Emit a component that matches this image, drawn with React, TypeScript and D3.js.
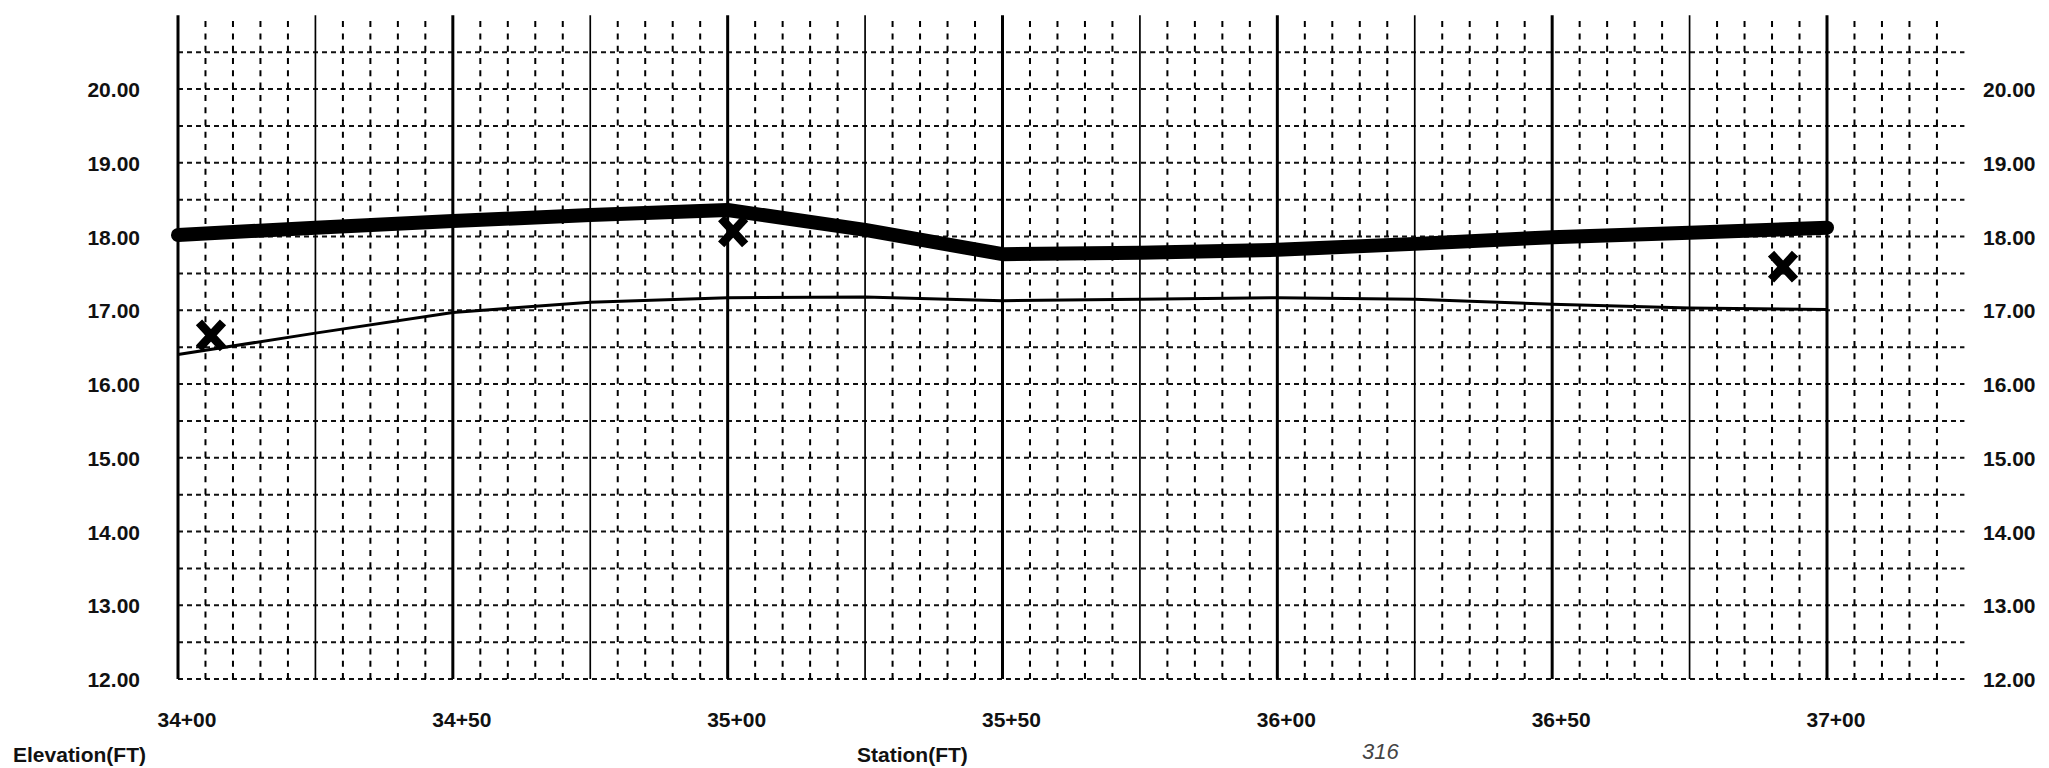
import React, { useEffect, useRef } from 'react';
import * as d3 from 'd3';

// stations in feet (34+00 = 3400)
const stations = [3400, 3425, 3450, 3475, 3500, 3525, 3550, 3575, 3600, 3625, 3650, 3675, 3700];
const profileTop = [18.02, 18.12, 18.21, 18.29, 18.36, 18.09, 17.76, 17.78, 17.82, 17.9, 17.99, 18.05, 18.12];
const profileGround = [16.4, 16.69, 16.97, 17.11, 17.17, 17.18, 17.13, 17.15, 17.17, 17.15, 17.08, 17.03, 17.01];
const markStations = [3406, 3501, 3692];
const markElevations = [16.66, 18.07, 17.59];
const stationTicks = [3400, 3450, 3500, 3550, 3600, 3650, 3700];
const elevationTicks = [12, 13, 14, 15, 16, 17, 18, 19, 20];

const fmtStation = (s: number) => `${Math.floor(s / 100)}+${String(s % 100).padStart(2, '0')}`;

const App = () => {
  const ref = useRef<SVGSVGElement>(null);

  useEffect(() => {
    const svg = d3.select(ref.current);
    svg.selectAll('*').remove();

    const x = d3.scaleLinear().domain([3400, 3700]).range([178, 1827]);
    const y = d3.scaleLinear().domain([12, 20]).range([679, 89]);
    const font = "'Liberation Sans', Arial, sans-serif";

    // horizontal dashed grid, every 0.5 ft
    const hLines = d3.range(12, 20.51, 0.5);
    svg
      .append('g')
      .selectAll('line')
      .data(hLines)
      .enter()
      .append('line')
      .attr('x1', x(3400))
      .attr('x2', x(3725))
      .attr('y1', (d) => y(d))
      .attr('y2', (d) => y(d))
      .attr('stroke', '#111')
      .attr('stroke-width', 2)
      .attr('stroke-dasharray', '5,4');

    // vertical grid, every 5 ft
    const vLines = d3.range(3400, 3721, 5);
    svg
      .append('g')
      .selectAll('line')
      .data(vLines)
      .enter()
      .append('line')
      .attr('x1', (d) => x(d))
      .attr('x2', (d) => x(d))
      .attr('y1', y(12))
      .attr('y2', y(21))
      .attr('stroke', '#000')
      .attr('stroke-width', (d) => (d <= 3700 && d % 50 === 0 ? 3 : d <= 3700 && d % 25 === 0 ? 1.7 : 2))
      .attr('stroke-dasharray', (d) => (d <= 3700 && d % 25 === 0 ? null : '6,6.3'));

    const line = d3
      .line<number>()
      .x((_, i) => x(stations[i]))
      .y((d) => y(d));

    svg
      .append('path')
      .attr('d', line(profileGround))
      .attr('fill', 'none')
      .attr('stroke', '#000')
      .attr('stroke-width', 3);

    svg
      .append('path')
      .attr('d', line(profileTop))
      .attr('fill', 'none')
      .attr('stroke', '#000')
      .attr('stroke-width', 14)
      .attr('stroke-linecap', 'round')
      .attr('stroke-linejoin', 'round');

    // X marks
    svg
      .append('g')
      .selectAll('path')
      .data(markStations)
      .enter()
      .append('path')
      .attr('transform', (d, i) => `translate(${x(d)},${y(markElevations[i])})`)
      .attr('d', 'M-12,-13L12,13M12,-13L-12,13')
      .attr('stroke', '#000')
      .attr('stroke-width', 8.5);

    const labels = svg
      .append('g')
      .attr('font-family', font)
      .attr('font-weight', 'bold')
      .attr('font-size', 21)
      .attr('fill', '#111');

    labels
      .selectAll('text.yl')
      .data(elevationTicks)
      .enter()
      .append('text')
      .attr('x', 140)
      .attr('y', (d) => y(d) + 8)
      .attr('text-anchor', 'end')
      .text((d) => d.toFixed(2));

    labels
      .selectAll('text.yr')
      .data(elevationTicks)
      .enter()
      .append('text')
      .attr('x', 1983)
      .attr('y', (d) => y(d) + 8)
      .text((d) => d.toFixed(2));

    labels
      .selectAll('text.xl')
      .data(stationTicks)
      .enter()
      .append('text')
      .attr('x', (d) => x(d) + 9)
      .attr('y', 727)
      .attr('text-anchor', 'middle')
      .text((d) => fmtStation(d));

    labels.append('text').attr('x', 13).attr('y', 762).text('Elevation(FT)');
    labels.append('text').attr('x', 857).attr('y', 762).text('Station(FT)');

    svg
      .append('text')
      .attr('x', 1362)
      .attr('y', 759)
      .attr('font-family', font)
      .attr('font-style', 'italic')
      .attr('font-size', 22)
      .attr('fill', '#444')
      .text('316');
  }, []);

  return (
    <div style={{ position: 'absolute', left: 0, top: 0 }}>
      <svg ref={ref} width={2049} height={768} style={{ display: 'block', background: '#fff' }} />
    </div>
  );
};

export default App;
